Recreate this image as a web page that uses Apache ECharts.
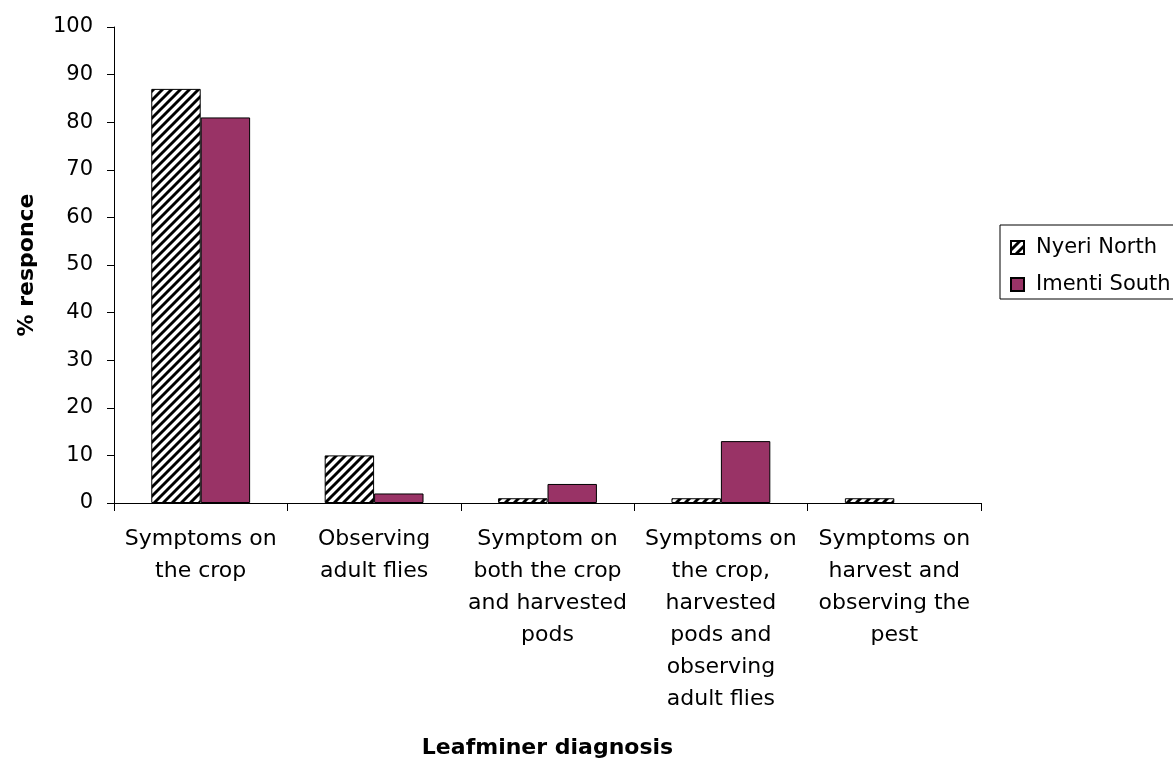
<!DOCTYPE html>
<html>
<head>
<meta charset="utf-8">
<script src="https://cdn.jsdelivr.net/npm/echarts@6/dist/echarts.min.js"></script>
<style>
  html, body { margin: 0; padding: 0; background: #ffffff; }
  #chart { width: 1173px; height: 764px; }
</style>
</head>
<body>
<div id="chart"></div>
<script>
// Diagnosis methods reported by farmers (% of respondents)
const categories = [
  'Symptoms on\nthe crop',
  'Observing\nadult flies',
  'Symptom on\nboth the crop\nand harvested\npods',
  'Symptoms on\nthe crop,\nharvested\npods and\nobserving\nadult flies',
  'Symptoms on\nharvest and\nobserving the\npest'
];
const nyeriNorth  = [87, 10, 1, 1, 1];
const imentiSouth = [81, 2, 4, 13, 0];
const seriesNames = ['Nyeri North', 'Imenti South'];
const yTicks = { min: 0, max: 100, step: 10 };

// Diagonal black-on-white hatch tile for the first series
function hatchTile() {
  const n = 9;
  const c = document.createElement('canvas');
  c.width = n; c.height = n;
  const g = c.getContext('2d');
  g.fillStyle = '#ffffff';
  g.fillRect(0, 0, n, n);
  g.strokeStyle = '#000000';
  g.lineWidth = 2.9;
  g.beginPath();
  g.moveTo(-1, n + 1); g.lineTo(n + 1, -1);
  g.moveTo(-1, 1); g.lineTo(1, -1);
  g.moveTo(n - 1, n + 1); g.lineTo(n + 1, n - 1);
  g.stroke();
  return c;
}

// Zero-height bars get no outline so nothing is drawn for them
function barData(values) {
  return values.map(v => v === 0 ? { value: v, itemStyle: { borderWidth: 0 } } : v);
}

const font = 'DejaVu Sans';
const chart = echarts.init(document.getElementById('chart'), null, { renderer: 'canvas' });

chart.setOption({
  backgroundColor: '#ffffff',
  animation: false,
  grid: { left: 114, right: 192, top: 27, bottom: 256, containLabel: false },
  legend: {
    orient: 'vertical',
    left: 1000,
    top: 225,
    padding: [12, 10, 4, 10],
    itemGap: 16,
    itemWidth: 13,
    itemHeight: 13,
    icon: 'rect',
    borderColor: '#000000',
    borderWidth: 1,
    textStyle: { fontFamily: font, fontSize: 21, color: '#000000', padding: [0, 0, 0, 7] },
    data: seriesNames
  },
  xAxis: {
    type: 'category',
    data: categories,
    name: 'Leafminer diagnosis',
    nameLocation: 'middle',
    nameGap: 234,
    nameTextStyle: { fontFamily: font, fontSize: 22, fontWeight: 'bold', color: '#000000' },
    axisLine: { lineStyle: { color: '#000000', width: 1 } },
    axisTick: { show: true, length: 8, alignWithLabel: false, lineStyle: { color: '#000000' } },
    axisLabel: {
      interval: 0,
      margin: 20,
      fontFamily: font,
      fontSize: 22,
      lineHeight: 32,
      color: '#000000',
      align: 'center'
    }
  },
  yAxis: {
    type: 'value',
    min: yTicks.min,
    max: yTicks.max,
    interval: yTicks.step,
    name: '% responce',
    nameLocation: 'middle',
    nameGap: 76,
    nameTextStyle: { fontFamily: font, fontSize: 22, fontWeight: 'bold', color: '#000000' },
    axisLine: { show: true, lineStyle: { color: '#000000', width: 1 } },
    axisTick: { show: true, length: 7, lineStyle: { color: '#000000' } },
    splitLine: { show: false },
    axisLabel: { margin: 21, fontFamily: font, fontSize: 21, color: '#000000' }
  },
  series: [
    {
      name: seriesNames[0],
      type: 'bar',
      data: barData(nyeriNorth),
      barGap: '0%',
      barCategoryGap: '43%',
      itemStyle: {
        color: { image: hatchTile(), repeat: 'repeat' },
        borderColor: '#000000',
        borderWidth: 1
      }
    },
    {
      name: seriesNames[1],
      type: 'bar',
      data: barData(imentiSouth),
      barGap: '0%',
      barCategoryGap: '43%',
      itemStyle: {
        color: '#993366',
        borderColor: '#000000',
        borderWidth: 1
      }
    }
  ]
});
</script>
</body>
</html>
